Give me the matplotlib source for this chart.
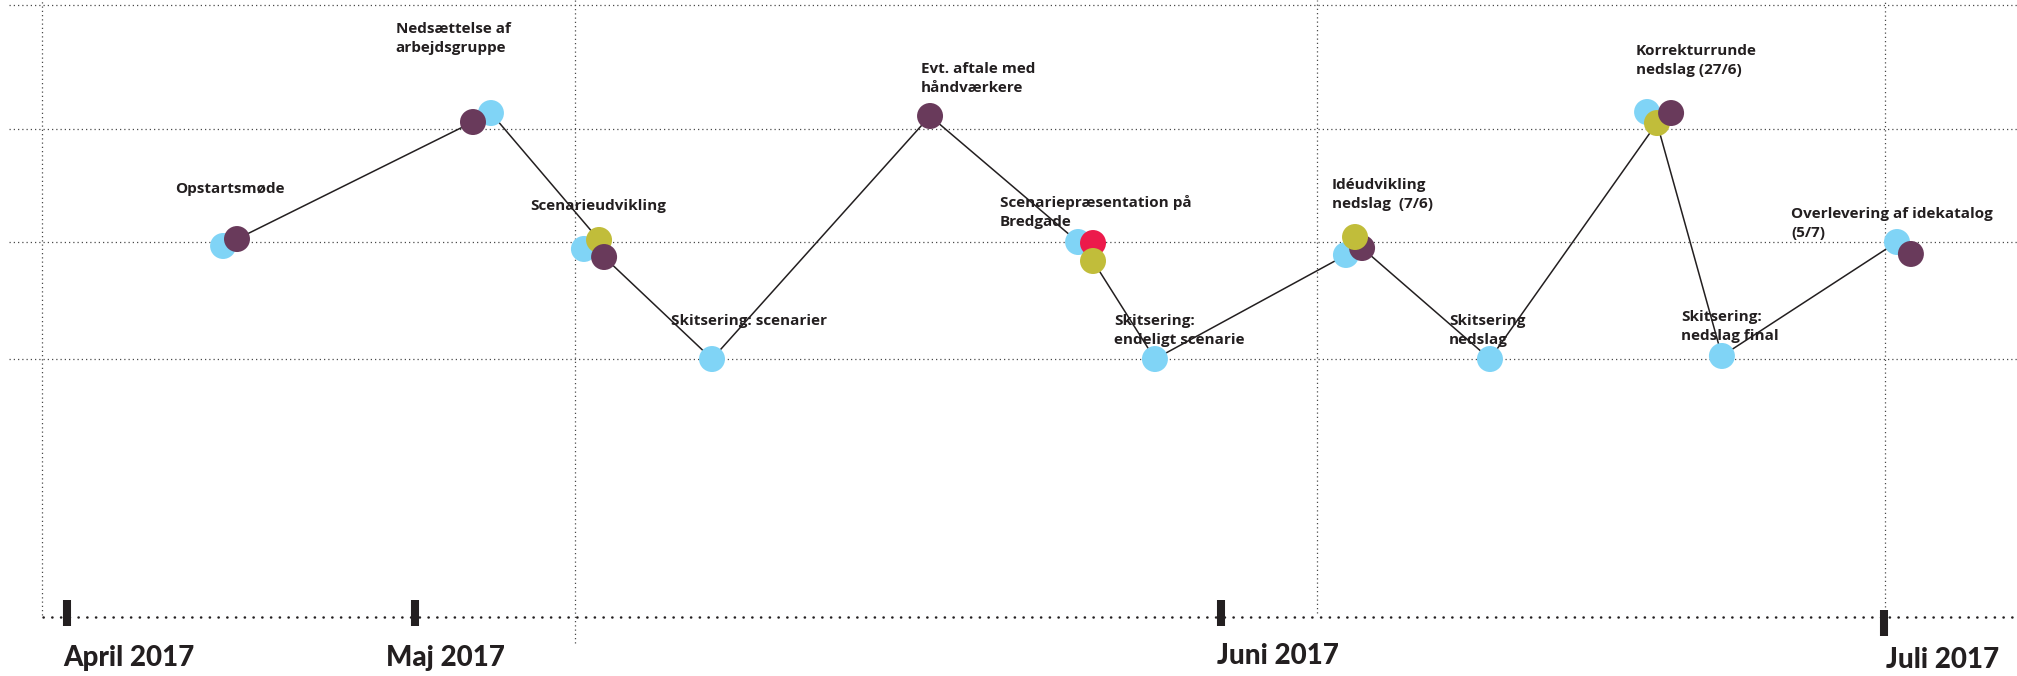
import matplotlib.pyplot as plt

plt.rcParams['font.family'] = ['Lato', 'DejaVu Sans']

# Faser paa tidslinjen
event_labels = [
    'Opstartsmøde',
    'Nedsættelse af\narbejdsgruppe',
    'Scenarieudvikling',
    'Skitsering: scenarier',
    'Evt. aftale med\nhåndværkere',
    'Scenariepræsentation på\nBredgade',
    'Skitsering:\nendeligt scenarie',
    'Idéudvikling\nnedslag  (7/6)',
    'Skitsering\nnedslag',
    'Korrekturrunde\nnedslag (27/6)',
    'Skitsering:\nnedslag final',
    'Overlevering af idekatalog\n(5/7)',
]

# Punkter: position paa tidslinjen (0-100) og niveau (0-100), i tegneraekkefoelge
point_x = [11.06, 11.75, 24.34, 23.45, 28.95, 29.70, 29.95, 35.30, 46.11,
           53.45, 54.19, 54.19, 57.26, 66.73, 67.53, 67.18, 73.87,
           81.66, 82.15, 82.85, 85.37, 94.05, 94.74]
point_y = [63.61, 64.64, 83.28, 81.95, 63.17, 64.50, 61.98, 46.89, 82.84,
           64.20, 64.05, 61.39, 46.89, 62.28, 63.31, 64.94, 46.89,
           83.43, 81.80, 83.28, 47.34, 64.20, 62.43]
point_group = ['blaa', 'lilla', 'blaa', 'lilla', 'blaa', 'oliven', 'lilla', 'blaa', 'lilla',
               'blaa', 'roed', 'oliven', 'blaa', 'blaa', 'lilla', 'oliven', 'blaa',
               'blaa', 'oliven', 'lilla', 'blaa', 'blaa', 'lilla']
# hvilke punkter forloebslinjen gaar igennem
point_on_line = [0, 1, 1, 0, 0, 1, 1, 1, 1,
                 1, 1, 1, 1, 1, 1, 0, 1,
                 0, 1, 0, 1, 1, 0]

month_labels = ['April 2017', 'Maj 2017', 'Juni 2017', 'Juli 2017']
month_x = [3.32, 20.58, 60.54, 93.41]

grid_y = [99.26, 80.92, 64.20, 46.89]
grid_x = [2.08, 28.51, 65.30, 93.46]
baseline_y = 8.73

# layout
label_pos = [(8.68, 71.45), (19.61, 95.12), (26.28, 68.93), (33.27, 51.92),
             (45.66, 89.20), (49.58, 69.38), (55.23, 51.92), (66.04, 72.04),
             (71.84, 51.92), (81.11, 91.86), (83.34, 52.51), (88.80, 67.75)]
line_step = 2.85
grid_x_bottom = [9.02, 4.88, 9.32, 10.21]
tick_shift = [0, 0, 0, -1.48]
month_label_pos = [(3.12, 1.48), (19.14, 1.48), (60.34, 1.78), (93.5, 1.18)]

colors = {'blaa': '#80d4f6', 'lilla': '#693a5b', 'oliven': '#c1bd3a', 'roed': '#ec1a4b'}
ink = '#231f20'
grid_color = '#4a4a4a'

fig = plt.figure(figsize=(20.17, 6.76), dpi=100)
ax = fig.add_axes([0, 0, 1, 1])
ax.set_xlim(0, 100)
ax.set_ylim(0, 100)
ax.axis('off')

# gitter
for y in grid_y:
    ax.plot([0.45, 100], [y, y], color=grid_color, lw=0.9, ls=(0, (1, 2.4)), zorder=1)
for x, yb in zip(grid_x, grid_x_bottom):
    ax.plot([x, x], [yb, 100], color=grid_color, lw=0.9, ls=(0, (1, 2.4)), zorder=1)

# tidsakse
ax.plot([2.13, 100], [baseline_y, baseline_y], color=ink, lw=1.8,
        ls=(0, (0.1, 3.4)), dash_capstyle='round', zorder=2)
for x, s in zip(month_x, tick_shift):
    ax.plot([x, x], [7.40 + s, 11.24 + s], color=ink, lw=5.8, solid_capstyle='butt', zorder=3)
for (mx, my), lab in zip(month_label_pos, month_labels):
    ax.text(mx, my, lab, fontsize=20, fontweight='black', color=ink,
            ha='left', va='baseline')

# etiketter, en linje ad gangen
for (lx, ly), lab in zip(label_pos, event_labels):
    for i, part in enumerate(lab.split('\n')):
        ax.text(lx, ly - i * line_step, part, fontsize=11, fontweight='bold',
                family=['Open Sans', 'DejaVu Sans'],
                color=ink, ha='left', va='baseline', zorder=2)

# forloebslinje
line_x = [x for x, f in zip(point_x, point_on_line) if f]
line_y = [y for y, f in zip(point_y, point_on_line) if f]
ax.plot(line_x, line_y, color=ink, lw=1.1, zorder=4)

ax.scatter(point_x, point_y, s=350, c=[colors[g] for g in point_group],
           edgecolors='none', zorder=5)

fig.savefig('out.png', dpi=100)
